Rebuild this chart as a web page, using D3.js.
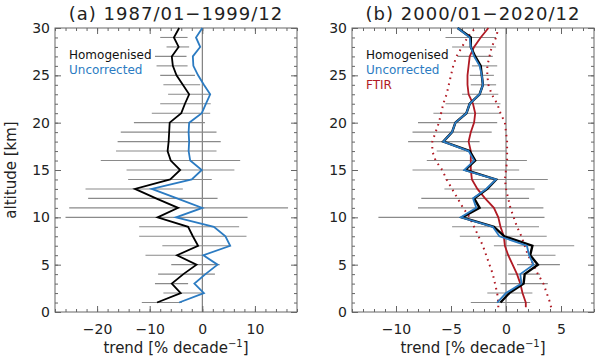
<!DOCTYPE html>
<html>
<head>
<meta charset="utf-8">
<script src="https://cdn.jsdelivr.net/npm/d3@7"></script>
<style>
  body { margin: 0; background: #fff; }
  text { font-family: "DejaVu Sans", sans-serif; }
</style>
</head>
<body>
<div id="the_chart"></div>
<script>
// altitude levels (km)
var alt = [1,2,3,4,5,6,7,8,9,10,11,12,13,14,15,16,17,18,19,20,21,22,23,24,25,26,27,28,29,30];

// (a) 1987/01-1999/12
var homA = [-8.6,-4.1,-5.8,-3.6,-1.1,-4.8,-0.8,-1.8,-2.7,-8.5,-4.6,-8.8,-12.8,-6.1,-4.2,-6.0,-6.6,-6.4,-6.3,-6.2,-4.0,-3.3,-2.5,-3.7,-4.9,-5.6,-5.8,-4.5,-5.4,-4.4];
var uncA = [-4.4,0.3,-1.5,0.6,2.9,0.2,5.3,4.4,2.2,-5.0,0.0,-4.8,-9.6,-2.0,-0.1,-2.3,-2.6,-2.5,-2.6,-2.5,-0.1,0.7,1.5,0.3,-0.8,-1.7,-1.8,-0.4,-1.2,0.0];
var loA = [-11.5,-7.4,-9.0,-8.4,-5.9,-10.8,-7.6,-12.0,-12.0,-26.0,-25.3,-21.7,-22.2,-14.1,-14.4,-19.3,-16.4,-16.1,-15.5,-13.0,-9.6,-8.0,-6.5,-7.4,-8.0,-8.7,-9.0,-6.8,-8.0];
var hiA = [-3.9,0.0,-2.7,2.4,3.3,0.3,5.4,8.4,7.0,8.6,16.3,2.9,-3.7,1.8,6.1,7.2,2.7,3.5,2.7,0.5,1.5,1.6,1.5,-0.4,-1.4,-2.8,-3.0,-2.5,-2.8];

// (b) 2000/01-2020/12
var homB = [-0.5,0.3,1.6,1.7,2.9,2.2,2.4,-0.15,-1.1,-4.0,-2.4,-2.9,-1.7,-0.9,-3.7,-2.8,-3.3,-5.7,-4.9,-4.6,-3.6,-3.3,-2.4,-2.1,-2.2,-2.3,-2.8,-3.2,-3.2,-4.4];
var uncB = [-0.8,0.0,1.4,1.3,2.5,2.1,1.9,-0.6,-1.2,-4.1,-2.7,-3.0,-1.8,-0.9,-3.8,-2.9,-3.4,-5.7,-4.9,-4.6,-3.6,-3.3,-2.4,-2.1,-2.2,-2.4,-2.9,-3.2,-3.3,-4.4];
var loB = [-3.2,-1.7,-0.5,0.2,1.0,-0.1,-1.1,-4.2,-4.9,-11.6,-8.0,-7.7,-5.6,-5.5,-8.5,-7.2,-6.3,-8.9,-8.5,-8.0,-6.6,-5.5,-4.0,-3.2,-3.3,-3.1,-4.4,-4.9,-5.5];
var hiB = [2.2,2.4,3.8,3.1,4.9,4.5,6.2,3.7,3.0,3.5,3.4,2.1,2.6,3.8,1.2,1.9,0.1,-2.4,-1.3,-0.8,-0.5,-0.5,-0.7,-0.9,-1.1,-0.8,-1.2,-0.9,-0.9];

// FTIR trend with its uncertainty envelope
var ftirAlt = [0.5,1,2,3,4,5,6,7,8,9,10,11,12,13,14,15,16,17,18,19,20,21,22,23,24,25,26,27,28,29,30];
var ftir = [1.8,1.8,1.5,1.3,1.0,0.6,0.2,-0.1,-0.2,-0.5,-0.7,-1.1,-1.9,-2.6,-3.1,-3.2,-3.2,-3.2,-3.4,-3.2,-2.9,-2.8,-3.0,-3.4,-3.5,-3.5,-3.4,-3.3,-2.9,-2.3,-1.6];
var ftirLo = [-0.7,-0.7,-0.8,-1.0,-1.2,-1.5,-1.8,-2.1,-2.5,-2.9,-3.3,-3.9,-4.4,-4.9,-5.4,-5.8,-6.4,-6.7,-6.7,-6.4,-6.1,-5.9,-5.7,-5.4,-5.2,-5.0,-4.8,-4.5,-4.0,-3.5,-2.8];
var ftirHi = [4.1,4.0,3.7,3.4,2.9,2.5,2.0,1.7,1.4,1.0,0.7,0.4,0.2,0.0,-0.1,0.0,0.1,0.1,0.1,0.0,-0.1,-0.5,-0.8,-1.3,-1.6,-1.7,-1.7,-1.5,-1.3,-0.9,-0.7];

var red = "#b01a24", blue = "#2b7bc2", grey = "#8a8a8a";

var w = 600, h = 361;
var svg = d3.select("#the_chart").append("svg")
    .attr("width", w)
    .attr("height", h);

var y = d3.scaleLinear().domain([0, 30]).range([312, 28]);

function panel(x, title, majors, minorStep) {
    var g = svg.append("g");
    var x0 = x.range()[0], x1 = x.range()[1];

    g.append("text")
        .attr("x", (x0 + x1) / 2).attr("y", 20)
        .attr("text-anchor", "middle")
        .attr("font-size", 18).attr("letter-spacing", 1)
        .attr("fill", "#222")
        .text(title);

    var minorX = d3.range(x.domain()[0], x.domain()[1] + 0.01, minorStep);
    var minorY = d3.range(0, 31, 1);

    // minor ticks on all four sides
    g.append("g").attr("transform", "translate(0,312)")
        .call(d3.axisBottom(x).tickValues(minorX).tickSize(-3).tickFormat(""));
    g.append("g").attr("transform", "translate(0,28)")
        .call(d3.axisTop(x).tickValues(minorX).tickSize(-3).tickFormat(""));
    g.append("g").attr("transform", "translate(" + x0 + ",0)")
        .call(d3.axisLeft(y).tickValues(minorY).tickSize(-3).tickFormat(""));
    g.append("g").attr("transform", "translate(" + x1 + ",0)")
        .call(d3.axisRight(y).tickValues(minorY).tickSize(-3).tickFormat(""));

    // major ticks with labels
    g.append("g").attr("class", "lab").attr("transform", "translate(0,312)")
        .call(d3.axisBottom(x).tickValues(majors).tickSize(-6).tickPadding(12));
    g.append("g").attr("transform", "translate(0,28)")
        .call(d3.axisTop(x).tickValues(majors).tickSize(-6).tickFormat(""));
    g.append("g").attr("class", "lab").attr("transform", "translate(" + x0 + ",0)")
        .call(d3.axisLeft(y).tickValues([0, 5, 10, 15, 20, 25, 30]).tickSize(-6).tickPadding(5));
    g.append("g").attr("transform", "translate(" + x1 + ",0)")
        .call(d3.axisRight(y).tickValues([0, 5, 10, 15, 20, 25, 30]).tickSize(-6).tickFormat(""));

    g.selectAll(".domain").remove();
    g.selectAll(".tick line").attr("stroke", "#666");
    g.selectAll(".lab text").attr("font-size", 14).attr("fill", "#222")
        .attr("font-family", "DejaVu Sans");

    g.append("rect")
        .attr("x", x0).attr("y", 28)
        .attr("width", x1 - x0).attr("height", 284)
        .attr("fill", "none").attr("stroke", "#666");

    // zero line
    g.append("line")
        .attr("x1", x(0)).attr("x2", x(0))
        .attr("y1", 28).attr("y2", 312)
        .attr("stroke", "#666").attr("stroke-width", 1);

    var xt = g.append("text")
        .attr("x", (x0 + x1) / 2).attr("y", 353)
        .attr("text-anchor", "middle")
        .attr("font-size", 15).attr("fill", "#222");
    xt.append("tspan").text("trend [% decade");
    xt.append("tspan").attr("dy", -6).attr("font-size", 10).text("−1");
    xt.append("tspan").attr("dy", 6).text("]");

    return g;
}

function errBars(g, x, lo, hi) {
    g.selectAll(null)
        .data(lo)
        .enter()
        .append("line")
        .attr("x1", function (d) { return x(d); })
        .attr("x2", function (d, i) { return x(hi[i]); })
        .attr("y1", function (d, i) { return y(alt[i]); })
        .attr("y2", function (d, i) { return y(alt[i]); })
        .attr("stroke", grey)
        .attr("stroke-width", 1.1);
}

function profile(g, x, vals, alts, color, width, dash) {
    var line = d3.line()
        .x(function (d) { return x(d); })
        .y(function (d, i) { return y(alts[i]); });
    g.append("path")
        .datum(vals)
        .attr("d", line)
        .attr("fill", "none")
        .attr("stroke", color)
        .attr("stroke-width", width)
        .attr("stroke-linejoin", "miter")
        .attr("stroke-dasharray", dash || null);
}

function legend(g, x0, items) {
    items.forEach(function (it, i) {
        g.append("text")
            .attr("x", x0).attr("y", 59 + i * 15)
            .attr("font-size", 12)
            .attr("fill", it[1])
            .text(it[0]);
    });
}

// panel (a)
var xa = d3.scaleLinear().domain([-28, 18]).range([55, 297]);
var ga = panel(xa, "(a) 1987/01−1999/12", [-20, -10, 0, 10], 2);
errBars(ga, xa, loA, hiA);
profile(ga, xa, uncA, alt, blue, 1.8);
profile(ga, xa, homA, alt, "#000", 1.8);
legend(ga, 69, [["Homogenised", "#111"], ["Uncorrected", blue]]);

// panel (b)
var xb = d3.scaleLinear().domain([-14, 8]).range([352, 594]);
var gb = panel(xb, "(b) 2000/01−2020/12", [-10, -5, 0, 5], 1);
errBars(gb, xb, loB, hiB);
profile(gb, xb, ftirLo, ftirAlt, red, 2, "1.6,4.4");
profile(gb, xb, ftirHi, ftirAlt, red, 2, "1.6,4.4");
profile(gb, xb, ftir, ftirAlt, red, 1.8);
profile(gb, xb, homB, alt, "#000", 2.4);
profile(gb, xb, uncB, alt, blue, 1.8);
legend(gb, 366, [["Homogenised", "#111"], ["Uncorrected", blue], ["FTIR", red]]);

// y axis title
svg.append("text")
    .attr("transform", "translate(16,170) rotate(-90)")
    .attr("text-anchor", "middle")
    .attr("font-size", 15).attr("fill", "#222")
    .text("altitude [km]");
</script>
</body>
</html>
